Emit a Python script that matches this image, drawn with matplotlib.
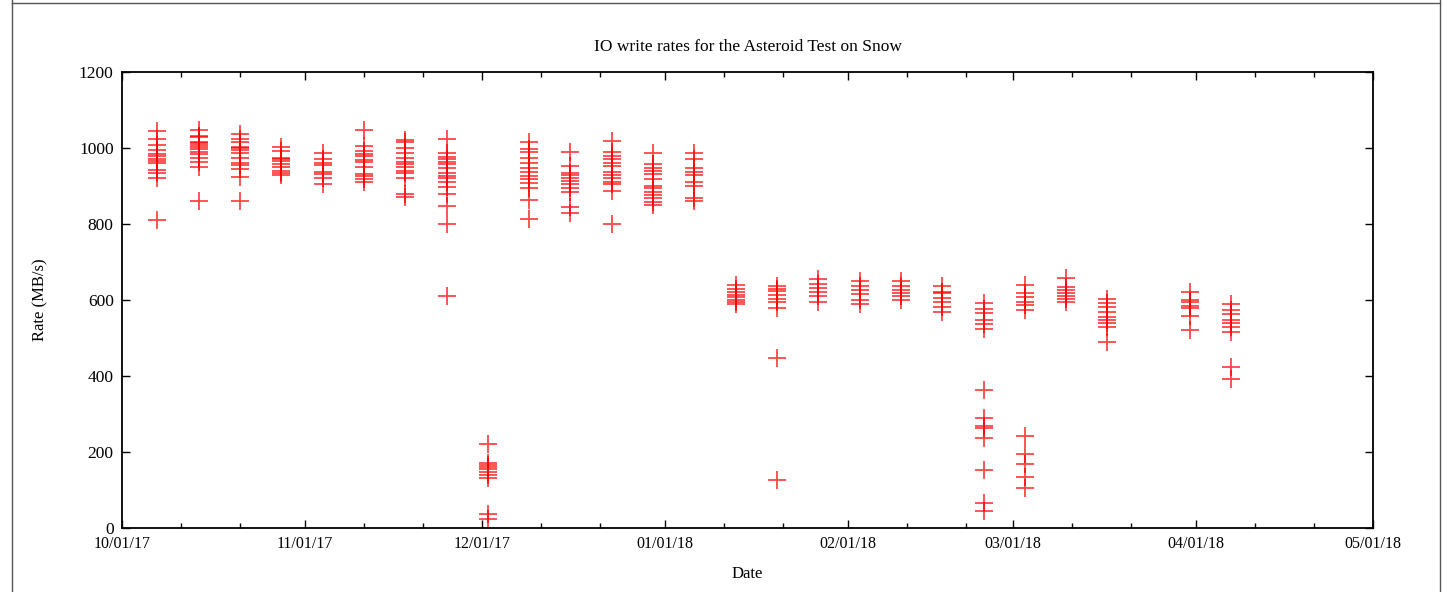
import matplotlib
matplotlib.use('Agg')
import matplotlib.pyplot as plt
import matplotlib.dates as mdates
import numpy as np
from datetime import datetime

plt.rcParams.update({
    'font.family': 'Liberation Serif',
    'font.size': 11,
})

# weekly test dates
week_dates = ['2017-10-07', '2017-10-14', '2017-10-21', '2017-10-28', '2017-11-04',
              '2017-11-11', '2017-11-18', '2017-11-25', '2017-12-02', '2017-12-09',
              '2017-12-16', '2017-12-23', '2017-12-30', '2018-01-06', '2018-01-13',
              '2018-01-20', '2018-01-27', '2018-02-03', '2018-02-10', '2018-02-17',
              '2018-02-24', '2018-03-03', '2018-03-10', '2018-03-17', '2018-03-31',
              '2018-04-07']

# write rates (MB/s) measured on each date
week_rates = [
    [1045, 1025, 1008, 995, 985, 980, 970, 965, 960, 942, 935, 920, 810],
    [1047, 1032, 1030, 1016, 1012, 1008, 1002, 997, 990, 984, 973, 964, 951, 861],
    [1037, 1025, 1015, 1003, 999, 995, 988, 974, 960, 955, 944, 923, 861],
    [1003, 993, 975, 970, 965, 958, 950, 940, 935, 930],
    [988, 971, 960, 955, 936, 932, 920, 905],
    [1047, 1005, 992, 985, 978, 968, 964, 951, 932, 927, 918, 911],
    [1021, 1017, 1001, 988, 975, 962, 957, 951, 940, 933, 920, 880, 872],
    [1023, 986, 977, 970, 964, 958, 947, 935, 927, 920, 910, 898, 879, 847, 799, 611],
    [220, 170, 165, 160, 155, 148, 140, 131, 37, 24],
    [1017, 997, 989, 974, 960, 947, 938, 926, 918, 909, 895, 863, 814],
    [989, 953, 935, 928, 920, 912, 905, 894, 884, 846, 830],
    [1019, 990, 980, 970, 961, 953, 938, 929, 922, 911, 904, 887, 799],
    [986, 957, 948, 940, 932, 918, 900, 894, 885, 876, 868, 859, 850],
    [986, 971, 947, 938, 929, 911, 901, 868, 861],
    [639, 628, 620, 613, 607, 600, 594, 589],
    [637, 630, 624, 613, 602, 596, 578, 447, 126],
    [655, 641, 631, 622, 611, 596],
    [650, 638, 626, 615, 600, 589],
    [650, 637, 626, 618, 610, 600],
    [637, 622, 618, 604, 596, 581, 569],
    [591, 576, 565, 547, 536, 525, 363, 289, 268, 264, 236, 153, 65, 45],
    [639, 619, 609, 596, 587, 574, 242, 195, 168, 133, 106],
    [657, 635, 627, 619, 610, 602, 596],
    [603, 591, 581, 569, 555, 547, 539, 528, 490],
    [622, 600, 596, 585, 578, 558, 521],
    [589, 574, 562, 547, 539, 530, 516, 423, 391],
]

xs, ys = [], []
for d, vals in zip(week_dates, week_rates):
    dt = datetime.strptime(d, '%Y-%m-%d')
    xs += [dt] * len(vals)
    ys += vals

fig = plt.figure(figsize=(14.52, 5.92), dpi=100)
ax = fig.add_axes([122 / 1452, 64 / 592, 1251 / 1452, 456 / 592])

ax.plot(xs, ys, linestyle='none', marker='+', markersize=13.5, markeredgewidth=1.3,
        color='#ff0000', alpha=0.72)

ax.set_xlim(datetime(2017, 10, 1), datetime(2018, 5, 1))
ax.set_ylim(0, 1200)
ax.set_yticks(np.arange(0, 1201, 200))
ax.xaxis.set_major_locator(mdates.MonthLocator())
ax.xaxis.set_major_formatter(mdates.DateFormatter('%m/%d/%y'))
ax.xaxis.set_minor_locator(mdates.DayLocator(bymonthday=[11, 21]))

ax.tick_params(which='both', direction='in', top=True, right=True, pad=6)
ax.tick_params(axis='x', labelsize=11.5)
ax.tick_params(axis='y', labelsize=12.5)
ax.tick_params(which='major', length=6, width=1)
ax.tick_params(which='minor', length=3.5, width=1)
for s in ax.spines.values():
    s.set_linewidth(1.3)

ax.set_title('IO write rates for the Asteroid Test on Snow', fontsize=12.5, pad=15)
ax.set_xlabel('Date', fontsize=12, labelpad=10)
ax.set_ylabel('Rate (MB/s)', fontsize=12, labelpad=22)

# page frame around the figure
fig.add_artist(plt.Line2D([12 / 1452, 12 / 1452], [0, 1], color='#555555', lw=1))
fig.add_artist(plt.Line2D([1440 / 1452, 1440 / 1452], [0, 1], color='#555555', lw=1))
fig.add_artist(plt.Line2D([12 / 1452, 1440 / 1452], [589 / 592, 589 / 592], color='#555555', lw=1))

fig.savefig('out.png', dpi=100)
